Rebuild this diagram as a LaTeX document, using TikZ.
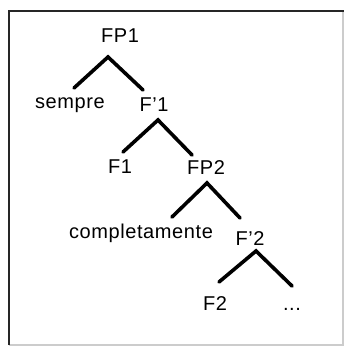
\documentclass[tikz,border=0pt]{standalone}
\usepackage{fontspec}
\setmainfont{Liberation Sans}[LetterSpace=3]
\newcommand{\sq}{\char"27\relax}
\begin{document}
\begin{tikzpicture}[x=1pt,y=-1pt,
  lbl/.style={anchor=base,inner sep=0pt,font=\fontsize{20}{24}\selectfont,text=black},
  branch/.style={line width=3.6pt,line cap=round,line join=miter,black}]
\useasboundingbox (0,0) rectangle (346,347);
\fill[white] (0,0) rectangle (346,347);
% frame
\draw[black!20,line width=1.2pt] (343,11) -- (343,345) -- (9,345);
\draw[black!85,line width=2.4pt] (9,345) -- (9,11) -- (344,11);
% labels
\node[lbl] (fp1) at (120,43) {FP1};
\node[lbl] (sempre) at (70,109) {sempre};
\node[lbl] (fb1) at (154,112) {F\sq1};
\node[lbl] (f1) at (120,173) {F1};
\node[lbl] (fp2) at (206,175) {FP2};
\node[lbl] (compl) at (141,238) {completamente};
\node[lbl] (fb2) at (250,245) {F\sq2};
\node[lbl] (f2) at (215,310) {F2};
\node[lbl] (dots) at (292,310) {...};
% branch points
\coordinate (a1) at (108,57); \coordinate (l1) at (74,88); \coordinate (r1) at (143,90);
\coordinate (a2) at (158,120); \coordinate (l2) at (123,152); \coordinate (r2) at (192,155);
\coordinate (a3) at (207,183); \coordinate (l3) at (172,217); \coordinate (r3) at (240,218);
\coordinate (a4) at (256,251); \coordinate (l4) at (219,282); \coordinate (r4) at (292,286);
\draw[branch] (l1) -- (a1) -- (r1);
\draw[branch] (l2) -- (a2) -- (r2);
\draw[branch] (l3) -- (a3) -- (r3);
\draw[branch] (l4) -- (a4) -- (r4);
\end{tikzpicture}
\end{document}
